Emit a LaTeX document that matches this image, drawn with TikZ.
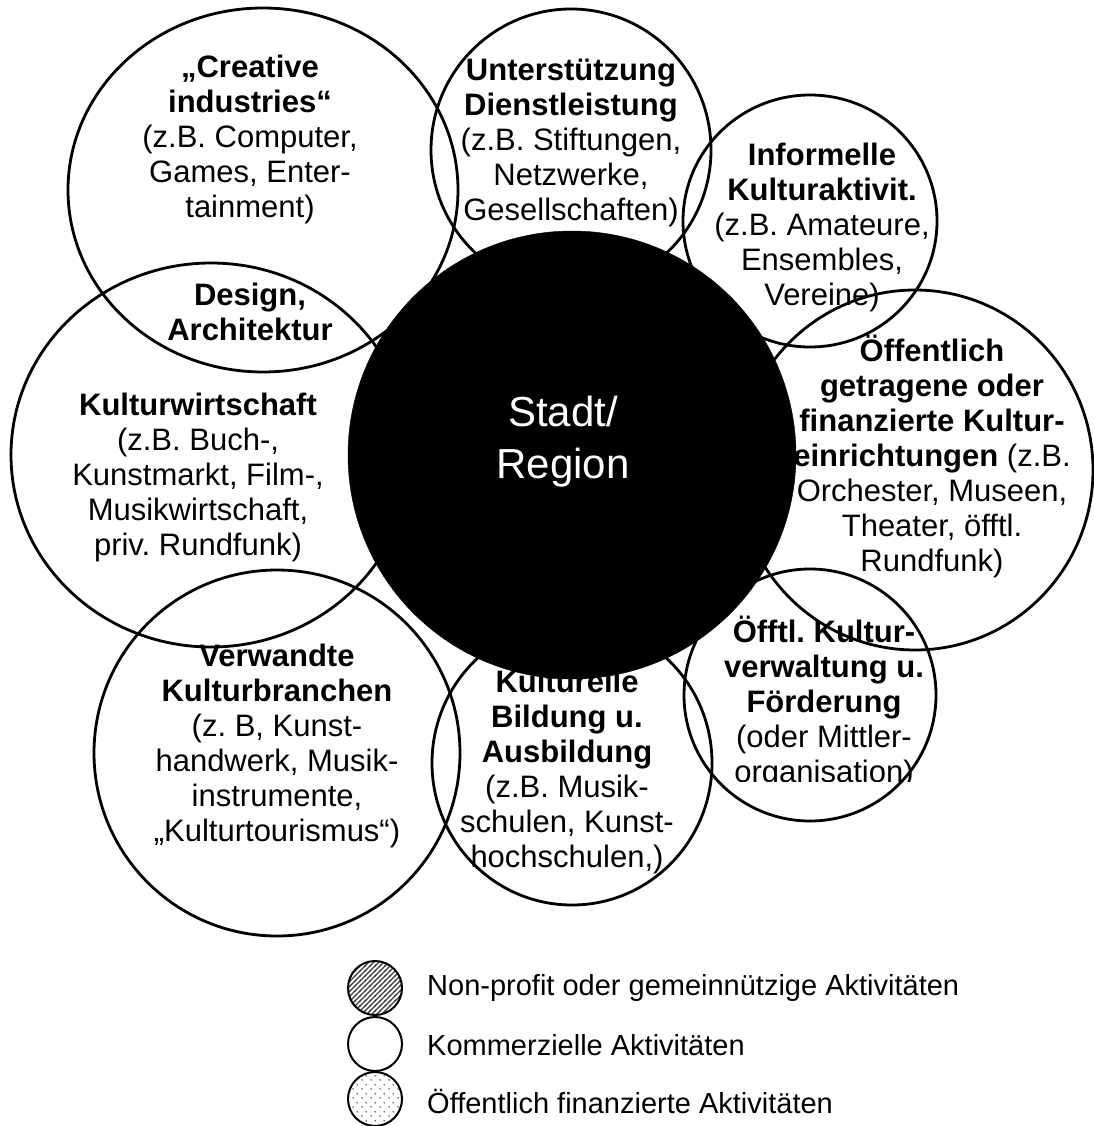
\documentclass[tikz,border=0pt]{standalone}
\usepackage{fontspec}
\setmainfont{Liberation Sans}
\usetikzlibrary{patterns}
\frenchspacing
\pgfdeclarepatternformonly{hatchx}{\pgfqpoint{-1pt}{-1pt}}{\pgfqpoint{6pt}{6pt}}{\pgfqpoint{5pt}{5pt}}{%
  \pgfsetlinewidth{1.3pt}\pgfpathmoveto{\pgfqpoint{-1pt}{-1pt}}\pgfpathlineto{\pgfqpoint{6pt}{6pt}}\pgfusepath{stroke}}
\pgfdeclarepatternformonly{sparsedots}{\pgfqpoint{0pt}{0pt}}{\pgfqpoint{9pt}{9pt}}{\pgfqpoint{9pt}{9pt}}{%
  \pgfpathcircle{\pgfqpoint{2.25pt}{2.25pt}}{0.9pt}\pgfpathcircle{\pgfqpoint{6.75pt}{6.75pt}}{0.9pt}\pgfusepath{fill}}
\begin{document}
\begin{tikzpicture}[x=1pt,y=-1pt,
  txt/.style={font=\fontsize{31}{35}\selectfont, align=center, inner sep=0pt},
  ring/.style={draw=black, line width=2.8pt},
  legtxt/.style={font=\fontsize{29}{33}\selectfont, anchor=west, inner sep=0pt},
  legring/.style={circle, draw=black, line width=2pt, minimum size=54pt, inner sep=0pt}]
\useasboundingbox (0,0) rectangle (1093,1126);
\fill[white] (0,0) rectangle (1093,1126);

% texts
\node[txt] (tCreative) at (250,139) {\textbf{„Creative}\\\textbf{industries“}\\(z.B. Computer,\\Games, Enter-\\tainment)};
\node[txt] (tDesign) at (250,312) {\textbf{Design,}\\\textbf{Architektur}};
\node[txt] (tUnter) at (571,143) {\textbf{Unterstützung}\\\textbf{Dienstleistung}\\(z.B. Stiftungen,\\Netzwerke,\\Gesellschaften)};
\node[txt] (tInform) at (822,227) {\textbf{Informelle}\\\textbf{Kulturaktivit.}\\(z.B. Amateure,\\Ensembles,\\Vereine)};
\node[txt] (tOeff) at (932,456) {\textbf{Öffentlich}\\\textbf{getragene oder}\\\textbf{finanzierte Kultur-}\\\textbf{einrichtungen} (z.B.\\Orchester, Museen,\\Theater, öfftl.\\Rundfunk)};
\node[txt] (tKultw) at (198,477) {\textbf{Kulturwirtschaft}\\(z.B. Buch-,\\Kunstmarkt, Film-,\\Musikwirtschaft,\\priv. Rundfunk)};
\node[txt] (tVerw) at (277,746) {\textbf{Verwandte}\\\textbf{Kulturbranchen}\\(z. B, Kunst-\\handwerk, Musik-\\instrumente,\\„Kulturtourismus“)};
\node[txt] (tBild) at (567,772) {\textbf{Kulturelle}\\\textbf{Bildung u.}\\\textbf{Ausbildung}\\(z.B. Musik-\\schulen, Kunst-\\hochschulen,)};
\begin{scope}
\clip (600,540) rectangle (1000,781);
\node[txt] (tVerwalt) at (824,702) {\textbf{Öfftl. Kultur-}\\\textbf{verwaltung u.}\\\textbf{Förderung}\\(oder Mittler-\\organisation)};
\end{scope}

% circles
\coordinate (cCreative) at (263,190);
\coordinate (cUnter) at (571,150);
\coordinate (cInform) at (810,221);
\coordinate (cOeff) at (915,470);
\coordinate (cKultw) at (211,455);
\coordinate (cVerw) at (277,753);
\coordinate (cBild) at (572,763);
\coordinate (cVerwalt) at (810,695);
\draw[ring] (cCreative) ellipse [x radius=195pt, y radius=182pt];
\draw[ring] (cUnter) ellipse [x radius=140pt, y radius=141pt];
\draw[ring] (cInform) ellipse [x radius=127pt, y radius=126pt];
\draw[ring] (cOeff) ellipse [x radius=178pt, y radius=180pt];
\draw[ring] (cKultw) ellipse [x radius=200pt, y radius=192pt];
\draw[ring] (cVerw) ellipse [x radius=183pt, y radius=183pt];
\draw[ring] (cBild) ellipse [x radius=140pt, y radius=142pt];
\draw[ring] (cVerwalt) ellipse [x radius=126pt, y radius=126pt];

% central black circle
\node[circle, fill=black, draw=black, minimum size=448pt, inner sep=0pt] (stadt) at (572,455) {};
\node[txt, font=\fontsize{42}{52}\selectfont, text=white] (tStadt) at (563,442) {Stadt/\\Region};

% legend
\node[legring, pattern=hatchx, pattern color=black!75] (lg1) at (375,988) {};
\node[legring, fill=white] (lg2) at (375,1044) {};
\node[legring, pattern=sparsedots, pattern color=black!70] (lg3) at (375,1099) {};
\node[legtxt] (lt1) at (427,988) {Non-profit oder gemeinnützige Aktivitäten};
\node[legtxt] (lt2) at (427,1045) {Kommerzielle Aktivitäten};
\node[legtxt] (lt3) at (427,1101) {Öffentlich finanzierte Aktivitäten};
\end{tikzpicture}
\end{document}
